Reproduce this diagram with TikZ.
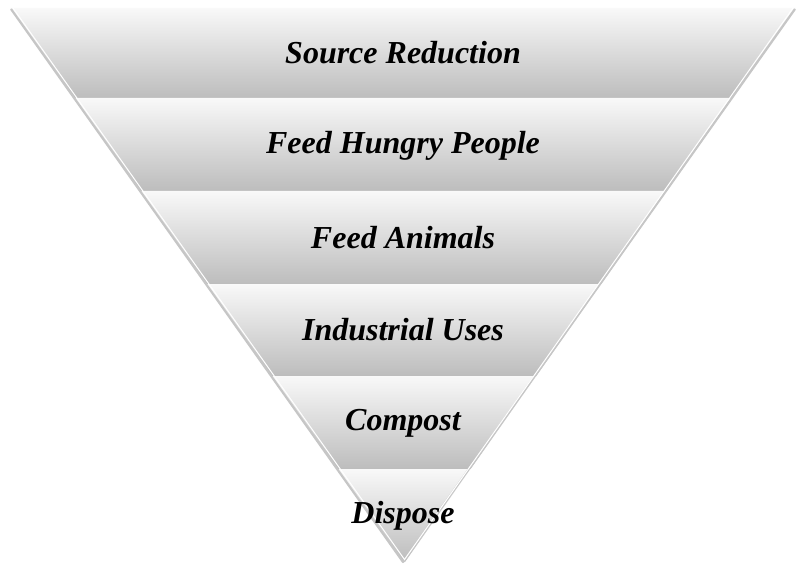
\documentclass[tikz,border=0pt]{standalone}
\usepackage{fontspec}
\setmainfont{Liberation Serif}
\begin{document}
\begin{tikzpicture}[x=1pt,y=-1pt]
      \useasboundingbox (0,0) rectangle (801,567);
      \coordinate (apex) at (403,562);

      % bands of the inverted triangle
      \foreach \ya/\yb in {8/98,98/191,191/284,284/376,376/469,469/562}{
        \pgfmathsetmacro\la{10+(\ya-8)*0.7094}
        \pgfmathsetmacro\lb{10+(\yb-8)*0.7094}
        \pgfmathsetmacro\ra{796-(\ya-8)*0.7058}
        \pgfmathsetmacro\rb{796-(\yb-8)*0.7058}
        \shade[top color=gray!5,middle color=gray!18,bottom color=gray!52]
          (\la,\ya) -- (\ra,\ya) -- (\rb,\yb) -- (\lb,\yb) -- cycle;
        \draw[white,line width=.8pt] (\lb,\yb) -- (\rb,\yb);
      }

      % rim of the triangle
      \draw[gray!45,line width=2.2pt,line join=round] (11,9) -- (apex) -- (795,9);
      \draw[white,line width=1pt] (13,8) -- (404.5,559.5) -- (793,8);

      % labels
      \foreach \yc/\lbl [count=\i] in {53/Source Reduction,146/Feed Hungry People,238/Feed Animals,330/Industrial Uses,423/Compost,516/Dispose}
        \node[font=\fontsize{32}{38}\selectfont\bfseries\itshape] (band\i) at (403,\yc) {\lbl};
\end{tikzpicture}
\end{document}
